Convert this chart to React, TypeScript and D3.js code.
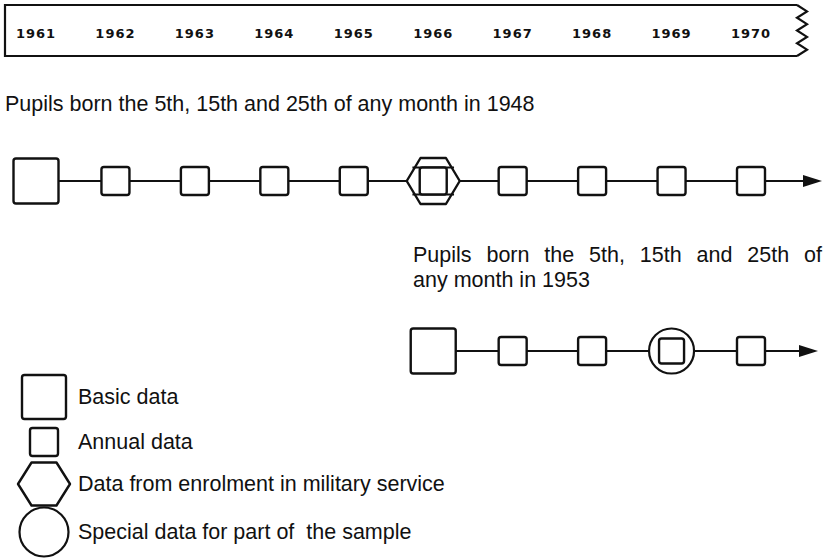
import { useEffect, useRef } from "react"
import * as d3 from "d3"

const years = [1961, 1962, 1963, 1964, 1965, 1966, 1967, 1968, 1969, 1970]

// cohort born 1948: one marker per year
const cohort1948 = ["basic", "annual", "annual", "annual", "annual", "military", "annual", "annual", "annual", "annual"]

// cohort born 1953 starts in 1966
const cohort1953Years = [1966, 1967, 1968, 1969, 1970]
const cohort1953 = ["basic", "annual", "annual", "special", "annual"]

const legendKeys = ["basic", "annual", "military", "special"]
const legendLabels = [
  "Basic data",
  "Annual data",
  "Data from enrolment in military service",
  "Special data for part of  the sample",
]

const caption1948 = "Pupils born the 5th, 15th and 25th of any month in 1948"
const caption1953 = ["Pupils born the 5th, 15th and 25th of", "any month in 1953"]

const INK = "#111"
const FONT = "'Liberation Sans', Arial, Helvetica, sans-serif"
const FS = 21.5

type G = d3.Selection<SVGGElement, unknown, null, undefined>

function square(g: G, cx: number, cy: number, s: number) {
  g.append("rect")
    .attr("x", cx - s / 2)
    .attr("y", cy - s / 2)
    .attr("width", s)
    .attr("height", s)
    .attr("rx", 2.5)
    .attr("fill", "#fff")
    .attr("stroke", INK)
    .attr("stroke-width", 2.4)
}

function hexagon(g: G, cx: number, cy: number, w: number, h: number) {
  const q = w * 0.26
  const pts: [number, number][] = [
    [cx - w / 2, cy],
    [cx - w / 2 + q, cy - h / 2],
    [cx + w / 2 - q, cy - h / 2],
    [cx + w / 2, cy],
    [cx + w / 2 - q, cy + h / 2],
    [cx - w / 2 + q, cy + h / 2],
  ]
  g.append("path")
    .attr("d", d3.line()(pts) + "Z")
    .attr("fill", "#fff")
    .attr("stroke", INK)
    .attr("stroke-width", 2.4)
    .attr("stroke-linejoin", "round")
  return { q }
}

function drawMarker(g: G, type: string, cx: number, cy: number, legend = false) {
  if (type === "basic") square(g, cx, cy, legend ? 44 : 45)
  else if (type === "annual") square(g, cx, cy, 28)
  else if (type === "military") {
    const w = legend ? 52 : 53
    const h = legend ? 43 : 46
    const { q } = hexagon(g, cx, cy, w, h)
    if (!legend) {
      // chords at the inner square's top and bottom
      ;[-13.5, 13.5].forEach((dy) => {
        const t = (h / 2 - Math.abs(dy)) / (h / 2)
        const half = w / 2 - q * t
        g.append("line")
          .attr("x1", cx - half)
          .attr("x2", cx + half)
          .attr("y1", cy + dy)
          .attr("y2", cy + dy)
          .attr("stroke", INK)
          .attr("stroke-width", 2.2)
      })
      square(g, cx, cy, 27)
    }
  } else if (type === "special") {
    g.append("circle")
      .attr("cx", cx)
      .attr("cy", cy)
      .attr("r", legend ? 24.5 : 22.5)
      .attr("fill", "#fff")
      .attr("stroke", INK)
      .attr("stroke-width", 2.2)
    if (!legend) square(g, cx, cy, 25)
  }
}

export default function App() {
  const svgRef = useRef<SVGSVGElement>(null)
  const width = 828
  const height = 559

  useEffect(() => {
    if (!svgRef.current) return
    const root = d3.select(svgRef.current)
    root.selectAll("*").remove()
    const svg = root.append("g") as unknown as G

    const x = d3.scalePoint<number>().domain(years).range([36, 751])

    // header strip with years
    const top = 5
    const bottom = 56
    const zx = 797
    const zig: [number, number][] = d3.range(9).map((i) => [i % 2 === 0 ? zx : zx + 10, top + ((bottom - top) * i) / 8])
    svg
      .append("path")
      .attr("d", `M${zx},${top}H5V${bottom}H${zx}` + "M" + zig.map((p) => p.join(",")).join("L"))
      .attr("fill", "none")
      .attr("stroke", INK)
      .attr("stroke-width", 2.2)
      .attr("stroke-linejoin", "miter")

    svg
      .selectAll("text.year")
      .data(years)
      .enter()
      .append("text")
      .attr("class", "year")
      .attr("x", (d) => x(d)!)
      .attr("y", 38)
      .attr("text-anchor", "middle")
      .attr("font-family", "'DejaVu Sans', sans-serif")
      .attr("font-weight", "bold")
      .attr("font-size", 13)
      .attr("letter-spacing", 1)
      .attr("fill", INK)
      .text((d) => String(d))

    // caption for 1948 cohort
    svg
      .append("text")
      .attr("x", 5)
      .attr("y", 111)
      .attr("font-family", FONT)
      .attr("font-size", FS)
      .attr("fill", INK)
      .text(caption1948)

    // timeline helper
    const timeline = (ys: number[], types: string[], cy: number, end: number) => {
      const g = svg.append("g") as unknown as G
      g.append("line")
        .attr("x1", x(ys[0])!)
        .attr("x2", end - 10)
        .attr("y1", cy)
        .attr("y2", cy)
        .attr("stroke", INK)
        .attr("stroke-width", 2.2)
      g.append("path")
        .attr("d", `M${end - 19},${cy - 6}L${end},${cy}L${end - 19},${cy + 6}Z`)
        .attr("fill", INK)
      ys.forEach((yr, i) => drawMarker(g, types[i], x(yr)!, cy))
    }

    timeline(years, cohort1948, 181, x(1970)! + 71)

    // caption for 1953 cohort, first line justified
    const capX0 = 413
    const capX1 = 822
    caption1953.forEach((line, i) => {
      const t = svg
        .append("text")
        .attr("x", capX0)
        .attr("y", 262 + i * 25)
        .attr("font-family", FONT)
        .attr("font-size", FS)
        .attr("fill", INK)
        .text(line)
      if (i === 0) {
        const node = t.node() as SVGTextElement
        const natural = node.getComputedTextLength()
        const spaces = line.split(" ").length - 1
        t.attr("word-spacing", (capX1 - capX0 - natural) / spaces)
      }
    })

    timeline(cohort1953Years, cohort1953, 351, x(1970)! + 67)

    // legend
    const legendY = d3.scaleOrdinal<string, number>().domain(legendKeys).range([397, 442, 484, 532])
    const lg = svg.append("g") as unknown as G
    legendKeys.forEach((k, i) => {
      drawMarker(lg, k, 44, legendY(k), true)
      lg.append("text")
        .attr("x", 78)
        .attr("y", legendY(k) + 7)
        .attr("font-family", FONT)
        .attr("font-size", FS)
        .attr("fill", INK)
        .style("white-space", "pre")
        .text(legendLabels[i])
    })
  }, [])

  return (
    <svg
      ref={svgRef}
      width={width}
      height={height}
      style={{ position: "absolute", left: 0, top: 0, background: "#fff" }}
    />
  )
}
